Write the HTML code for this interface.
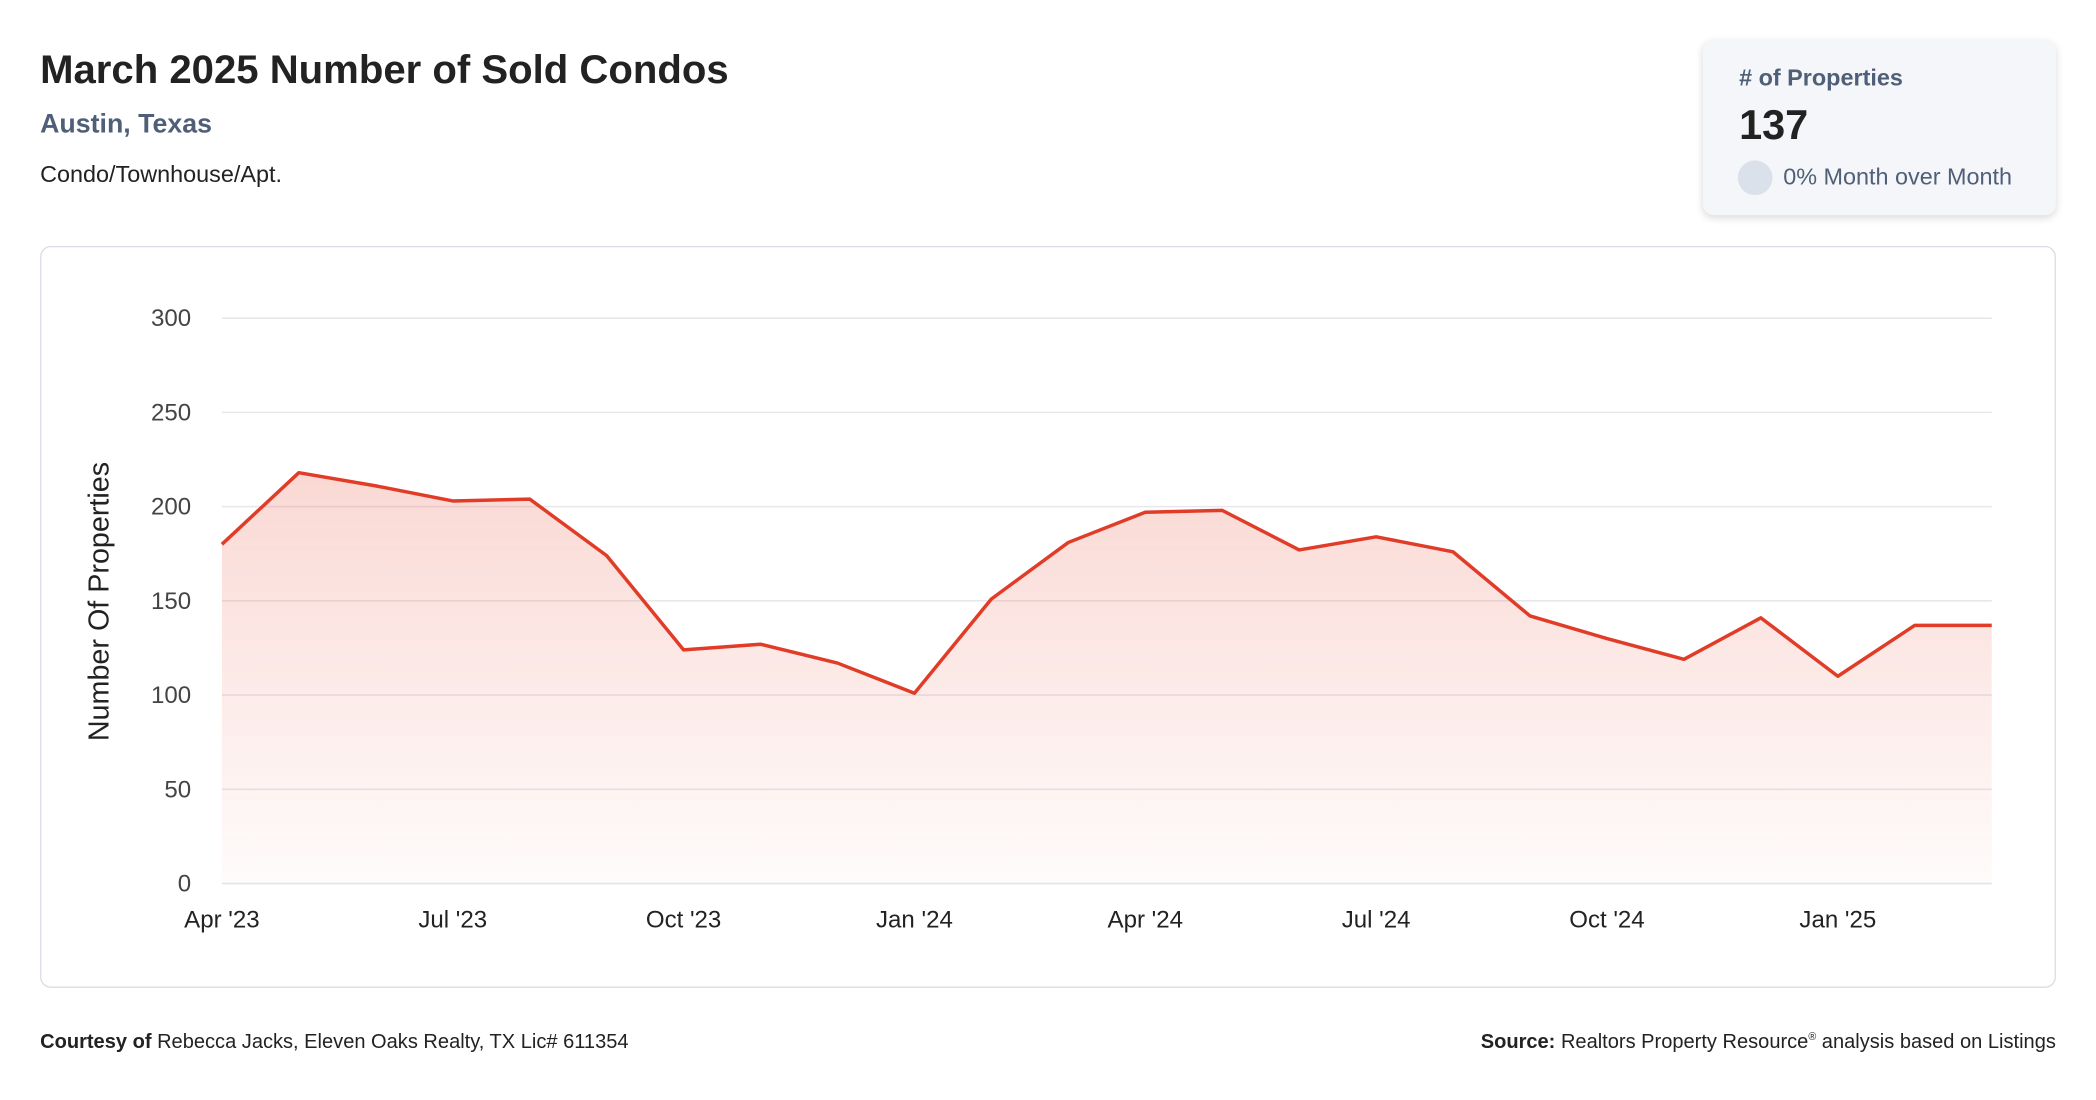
<!DOCTYPE html>
<html><head><meta charset="utf-8"><style>
html,body{margin:0;padding:0;background:#fff;width:2096px;height:1100px;overflow:hidden}
#wrap{position:absolute;left:0;top:0;width:1568px;height:823px;transform:scale(1.33673);transform-origin:0 0;font-family:"Liberation Sans",sans-serif}
.abs{position:absolute}
</style></head><body>
<div id="wrap">
<div class="abs" style="left:30px;top:36px;font-size:30px;font-weight:bold;color:#222">March 2025 Number of Sold Condos</div>
<div class="abs" style="left:30px;top:82px;font-size:20px;font-weight:bold;color:#4f5f77">Austin, Texas</div>
<div class="abs" style="left:30px;top:120px;font-size:17.5px;color:#222">Condo/Townhouse/Apt.</div>
<div class="abs" style="left:1274px;top:30px;width:264px;height:131px;background:#f5f6fa;border-radius:8px;box-shadow:0 2px 6px rgba(0,0,0,0.15)">
 <div class="abs" style="left:27px;top:18px;font-size:17.5px;font-weight:bold;color:#4f5f77"># of Properties</div>
 <div class="abs" style="left:27px;top:46px;font-size:31px;font-weight:bold;color:#222">137</div>
 <div class="abs" style="left:26px;top:90px;width:26px;height:26px;border-radius:50%;background:#dbe1ea"></div>
 <div class="abs" style="left:60px;top:92px;font-size:17.5px;color:#4f5f77">0% Month over Month</div>
</div>
<div class="abs" style="left:30px;top:184px;width:1506px;height:553px;border:1px solid #d8dde6;border-radius:8px"></div>
<svg class="abs" style="left:0;top:0" width="1568" height="823" id="chart">
<defs><linearGradient id="g" x1="0" y1="0" x2="0" y2="1"><stop offset="0" stop-color="#e8503a" stop-opacity="0.22"/><stop offset="1" stop-color="#e8503a" stop-opacity="0.02"/></linearGradient></defs>
<g id="grid"></g><path id="area" fill="url(#g)"/><path id="line" fill="none" stroke="#e03c28" stroke-width="2.6" stroke-linejoin="round"/><g id="labels"></g>
<text x="81" y="450" transform="rotate(-90 81 450)" text-anchor="middle" font-size="21.5" fill="#222">Number Of Properties</text>
</svg>
<div class="abs" style="left:30px;top:771px;font-size:15px;color:#222"><b>Courtesy of</b> Rebecca Jacks, Eleven Oaks Realty, TX Lic# 611354</div>
<div class="abs" style="right:30px;top:771px;font-size:15px;color:#222"><b>Source:</b> Realtors Property Resource<sup style="font-size:8px">®</sup> analysis based on Listings</div>
</div>
<script>
const values=[180,218,211,203,204,174,124,127,117,101,151,181,197,198,177,184,176,142,130,119,141,110,137,137];
const yTicks=[0,50,100,150,200,250,300];
const xLabels=["Apr '23","Jul '23","Oct '23","Jan '24","Apr '24","Jul '24","Oct '24","Jan '25"];
const xLabelIdx=[0,3,6,9,12,15,18,21];
const X0=166,X1=1490,Y0=661,Y300=238;
const x=i=>X0+(X1-X0)*i/(values.length-1);
const y=v=>Y0-(Y0-Y300)*v/300;
const NS="http://www.w3.org/2000/svg";
const grid=document.getElementById('grid'),labels=document.getElementById('labels');
yTicks.forEach(t=>{
 const l=document.createElementNS(NS,'line');
 l.setAttribute('x1',X0);l.setAttribute('x2',X1);l.setAttribute('y1',y(t));l.setAttribute('y2',y(t));
 l.setAttribute('stroke',t===0?'#e3e5ea':'#e6e8ec');l.setAttribute('stroke-width','1.2');
 
 
 grid.appendChild(l);
 const tx=document.createElementNS(NS,'text');
 tx.setAttribute('x',143);tx.setAttribute('y',y(t)+6);tx.setAttribute('text-anchor','end');tx.setAttribute('font-size','18');tx.setAttribute('fill','#444');
 tx.textContent=t;
 
 
 labels.appendChild(tx);
});
xLabels.forEach((s,k)=>{
 const tx=document.createElementNS(NS,'text');
 tx.setAttribute('x',x(xLabelIdx[k]));tx.setAttribute('y',694);tx.setAttribute('text-anchor','middle');tx.setAttribute('font-size','18');tx.setAttribute('fill','#222');
 tx.textContent=s;
 
 
 labels.appendChild(tx);
});
let d=values.map((v,i)=>(i?'L':'M')+x(i)+','+y(v)).join(' ');
document.getElementById('line').setAttribute('d',d);
document.getElementById('area').setAttribute('d',d+' L'+x(values.length-1)+','+Y0+' L'+X0+','+Y0+' Z');
</script>
</body></html>
